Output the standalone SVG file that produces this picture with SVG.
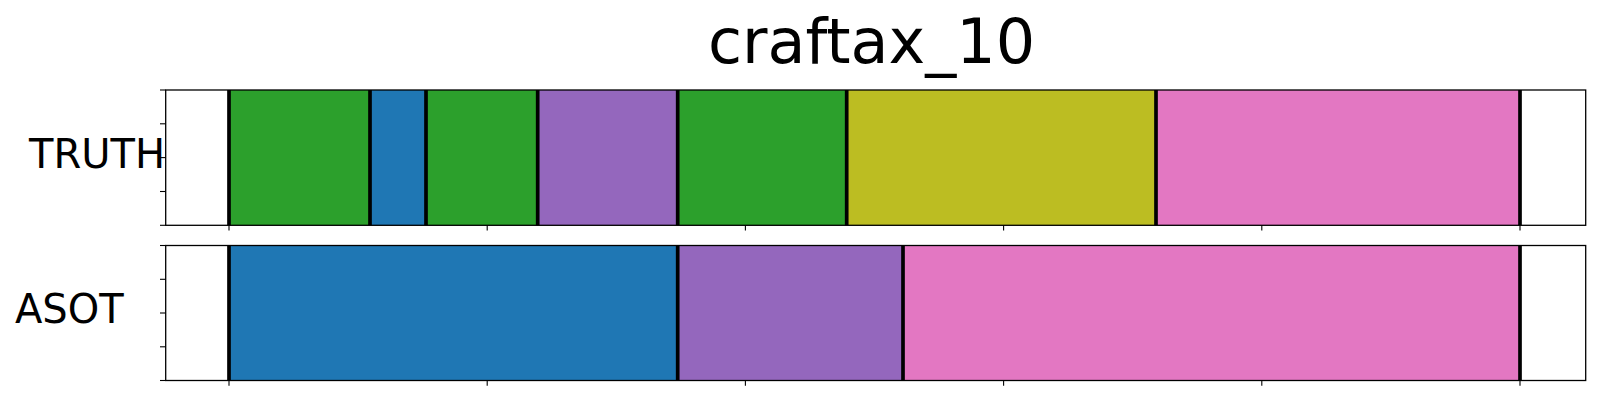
<svg xmlns="http://www.w3.org/2000/svg" width="1600" height="400" viewBox="0 0 1600 400">
<style>
.txt{font-family:"DejaVu Sans","Liberation Sans",sans-serif;fill:#000}
.green{fill:#2ca02c}.blue{fill:#1f77b4}.purple{fill:#9467bd}.olive{fill:#bcbd22}.pink{fill:#e377c2}
.bnd{stroke:#000;stroke-width:3.7}
.frame{fill:none;stroke:#000;stroke-width:1.3}
.tick{stroke:#000;stroke-width:1.1}
</style>
<rect width="1600" height="400" fill="#fff"/>
<text class="txt" x="871.6" y="62.5" font-size="62" text-anchor="middle">craftax_10</text>
<g id="truth">
<rect x="165.7" y="90" width="1420" height="135.3" fill="#fff"/>
<rect class="green" x="229" y="90" width="141" height="135.3"/>
<rect class="blue" x="370" y="90" width="56" height="135.3"/>
<rect class="green" x="426" y="90" width="111.7" height="135.3"/>
<rect class="purple" x="537.7" y="90" width="140" height="135.3"/>
<rect class="green" x="677.7" y="90" width="169" height="135.3"/>
<rect class="olive" x="846.7" y="90" width="309.3" height="135.3"/>
<rect class="pink" x="1156" y="90" width="364" height="135.3"/>
<g class="bnd">
<line x1="229" y1="90" x2="229" y2="225.3"/>
<line x1="370" y1="90" x2="370" y2="225.3"/>
<line x1="426" y1="90" x2="426" y2="225.3"/>
<line x1="537.7" y1="90" x2="537.7" y2="225.3"/>
<line x1="677.7" y1="90" x2="677.7" y2="225.3"/>
<line x1="846.7" y1="90" x2="846.7" y2="225.3"/>
<line x1="1156" y1="90" x2="1156" y2="225.3"/>
<line x1="1520" y1="90" x2="1520" y2="225.3"/>
</g>
<rect class="frame" x="165.7" y="90" width="1420" height="135.3"/>
<g class="tick">
<line x1="160" y1="90" x2="165.7" y2="90"/>
<line x1="160" y1="123.8" x2="165.7" y2="123.8"/>
<line x1="160" y1="157.6" x2="165.7" y2="157.6"/>
<line x1="160" y1="191.5" x2="165.7" y2="191.5"/>
<line x1="160" y1="225.3" x2="165.7" y2="225.3"/>
<line x1="229" y1="225.3" x2="229" y2="230.5"/>
<line x1="487.2" y1="225.3" x2="487.2" y2="230.5"/>
<line x1="745.4" y1="225.3" x2="745.4" y2="230.5"/>
<line x1="1003.6" y1="225.3" x2="1003.6" y2="230.5"/>
<line x1="1261.8" y1="225.3" x2="1261.8" y2="230.5"/>
<line x1="1520" y1="225.3" x2="1520" y2="230.5"/>
</g>
<text class="txt" x="29" y="168.3" font-size="40">TRUTH</text>
</g>
<g id="asot">
<rect x="165.7" y="245.5" width="1420" height="135" fill="#fff"/>
<rect class="blue" x="229" y="245.5" width="448.7" height="135"/>
<rect class="purple" x="677.7" y="245.5" width="225.3" height="135"/>
<rect class="pink" x="903" y="245.5" width="617" height="135"/>
<g class="bnd">
<line x1="229" y1="245.5" x2="229" y2="380.5"/>
<line x1="677.7" y1="245.5" x2="677.7" y2="380.5"/>
<line x1="903" y1="245.5" x2="903" y2="380.5"/>
<line x1="1520" y1="245.5" x2="1520" y2="380.5"/>
</g>
<rect class="frame" x="165.7" y="245.5" width="1420" height="135"/>
<g class="tick">
<line x1="160" y1="245.5" x2="165.7" y2="245.5"/>
<line x1="160" y1="279.3" x2="165.7" y2="279.3"/>
<line x1="160" y1="313" x2="165.7" y2="313"/>
<line x1="160" y1="346.8" x2="165.7" y2="346.8"/>
<line x1="160" y1="380.5" x2="165.7" y2="380.5"/>
<line x1="229" y1="380.5" x2="229" y2="385.7"/>
<line x1="487.2" y1="380.5" x2="487.2" y2="385.7"/>
<line x1="745.4" y1="380.5" x2="745.4" y2="385.7"/>
<line x1="1003.6" y1="380.5" x2="1003.6" y2="385.7"/>
<line x1="1261.8" y1="380.5" x2="1261.8" y2="385.7"/>
<line x1="1520" y1="380.5" x2="1520" y2="385.7"/>
</g>
<text class="txt" x="15" y="323" font-size="40">ASOT</text>
</g>
<g id="connectors"/>
</svg>
